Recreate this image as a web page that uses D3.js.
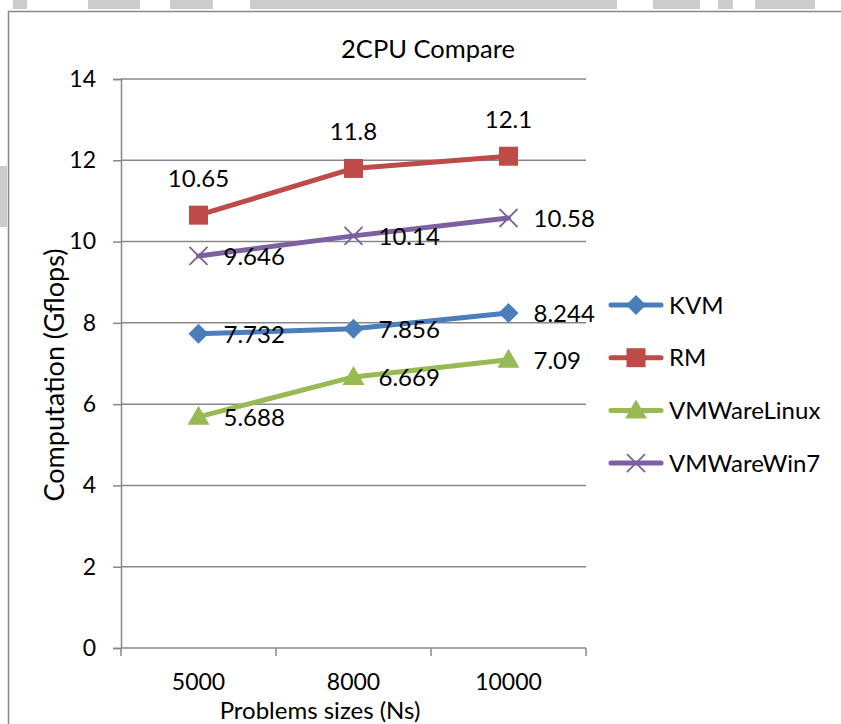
<!DOCTYPE html>
<html>
<head>
<meta charset="utf-8">
<script src="https://cdn.jsdelivr.net/npm/d3@7"></script>
<style>
  html, body { margin: 0; padding: 0; background: #fff; }
  svg { display: block; }
  text { font-family: Lato, "Open Sans", sans-serif; fill: #000; }
</style>
</head>
<body>
<div id="chart"></div>
<script>
// Données
const sizes = ["5000", "8000", "10000"]
const kvm = [7.732, 7.856, 8.244]
const rm = [10.65, 11.8, 12.1]
const vmLinux = [5.688, 6.669, 7.09]
const vmWin7 = [9.646, 10.14, 10.58]
const yTicks = [0, 2, 4, 6, 8, 10, 12, 14]

const series = [
  { name: "KVM", values: kvm, color: "#4a7ebb", marker: "diamond", label: "right" },
  { name: "RM", values: rm, color: "#be4b48", marker: "square", label: "above" },
  { name: "VMWareLinux", values: vmLinux, color: "#98b954", marker: "triangle", label: "right" },
  { name: "VMWareWin7", values: vmWin7, color: "#7d60a0", marker: "cross", label: "right" },
]

const W = 841, H = 724
const plot = { left: 121, right: 586, top: 79, bottom: 648 }
const gridColor = "#888888"

const svg = d3.select("#chart").append("svg")
  .attr("width", W).attr("height", H)

// restes gris de la page scannée (hors graphique)
const scraps = [[13, 14], [88, 52], [170, 43], [250, 170], [420, 197], [653, 47], [718, 15], [755, 60]]
svg.selectAll("rect.scrap").data(scraps).join("rect")
  .attr("x", (d) => d[0]).attr("y", 0).attr("width", (d) => d[1]).attr("height", 9)
  .attr("fill", "#cccccc")
svg.append("rect").attr("x", 0).attr("y", 166).attr("width", 7).attr("height", 61).attr("fill", "#cccccc")

// cadre du graphique
svg.append("path")
  .attr("d", `M8.5,${H} V11.5 H${W}`)
  .attr("fill", "none").attr("stroke", gridColor).attr("stroke-width", 1.5)

const x = d3.scaleBand().domain(sizes).range([plot.left, plot.right]).padding(0)
const y = d3.scaleLinear().domain([0, 14]).range([plot.bottom, plot.top])
const cx = (i) => x(sizes[i]) + x.bandwidth() / 2

// titre
svg.append("text")
  .attr("x", 428).attr("y", 58)
  .attr("text-anchor", "middle").attr("font-size", 25.5)
  .text("2CPU Compare")

// graduations Y
svg.append("g")
  .attr("transform", `translate(${plot.left},0)`)
  .call(d3.axisLeft(y).tickValues(yTicks).tickSize(8).tickPadding(17).tickFormat(d3.format("d")))
  .call((g) => g.select(".domain").attr("stroke", gridColor).attr("stroke-width", 1.5))
  .call((g) => g.selectAll(".tick line").attr("stroke", gridColor).attr("stroke-width", 1.5))
  .call((g) => g.selectAll(".tick text").attr("font-size", 23).attr("font-family", "Lato").attr("fill", "#000"))

// grille horizontale
svg.append("g")
  .selectAll("line").data(yTicks).join("line")
  .attr("x1", plot.left).attr("x2", plot.right)
  .attr("y1", (d) => y(d)).attr("y2", (d) => y(d))
  .attr("stroke", gridColor).attr("stroke-width", 1.5)

// axe X : graduations aux bords des bandes
const edges = sizes.map((s) => x(s)).concat([plot.right])
svg.selectAll("line.xtick").data(edges).join("line")
  .attr("class", "xtick")
  .attr("x1", (d) => d).attr("x2", (d) => d)
  .attr("y1", plot.bottom).attr("y2", plot.bottom + 8)
  .attr("stroke", gridColor).attr("stroke-width", 1.5)
svg.selectAll("text.xlab").data(sizes).join("text")
  .attr("class", "xlab")
  .attr("x", (d) => x(d) + x.bandwidth() / 2).attr("y", 690)
  .attr("text-anchor", "middle").attr("font-size", 23)
  .text((d) => d)

// titres d'axes
svg.append("text")
  .attr("transform", "translate(64,375) rotate(-90)")
  .attr("text-anchor", "middle").attr("font-size", 27)
  .text("Computation (Gflops)")
svg.append("text")
  .attr("x", 320).attr("y", 719)
  .attr("text-anchor", "middle").attr("font-size", 24)
  .text("Problems sizes (Ns)")

// marqueurs
function drawMarker(g, kind, px, py, color) {
  if (kind === "diamond") {
    g.append("path").attr("d", `M${px},${py - 10} L${px + 10},${py} L${px},${py + 10} L${px - 10},${py} Z`)
      .attr("fill", color)
  } else if (kind === "square") {
    g.append("rect").attr("x", px - 9.5).attr("y", py - 9.5).attr("width", 19).attr("height", 19)
      .attr("fill", color)
  } else if (kind === "triangle") {
    g.append("path").attr("d", `M${px},${py - 11} L${px + 11},${py + 8} L${px - 11},${py + 8} Z`)
      .attr("fill", color)
  } else {
    g.append("path").attr("d", `M${px - 9},${py - 9} L${px + 9},${py + 9} M${px + 9},${py - 9} L${px - 9},${py + 9}`)
      .attr("stroke", color).attr("stroke-width", 1.8).attr("fill", "none")
  }
}

const line = d3.line().x((d, i) => cx(i)).y((d) => y(d))

series.forEach((s) => {
  const g = svg.append("g")
  g.append("path").datum(s.values)
    .attr("d", line)
    .attr("fill", "none").attr("stroke", s.color)
    .attr("stroke-width", 5).attr("stroke-linejoin", "round").attr("stroke-linecap", "round")
  s.values.forEach((v, i) => drawMarker(g, s.marker, cx(i), y(v), s.color))
})

// étiquettes de valeurs
series.forEach((s) => {
  svg.append("g").selectAll("text").data(s.values).join("text")
    .attr("x", (d, i) => s.label === "above" ? cx(i) : cx(i) + 25)
    .attr("y", (d) => s.label === "above" ? y(d) - 28 : y(d) + 9)
    .attr("text-anchor", s.label === "above" ? "middle" : "start")
    .attr("font-size", 24)
    .text((d) => String(d))
})

// légende
const legend = svg.append("g")
series.forEach((s, i) => {
  const ly = 305 + i * 52.7
  legend.append("line")
    .attr("x1", 611).attr("x2", 661).attr("y1", ly).attr("y2", ly)
    .attr("stroke", s.color).attr("stroke-width", 5).attr("stroke-linecap", "round")
  drawMarker(legend, s.marker, 636, ly, s.color)
  legend.append("text")
    .attr("x", 669).attr("y", ly + 8.5)
    .attr("font-size", 24)
    .text(s.name)
})
</script>
</body>
</html>
